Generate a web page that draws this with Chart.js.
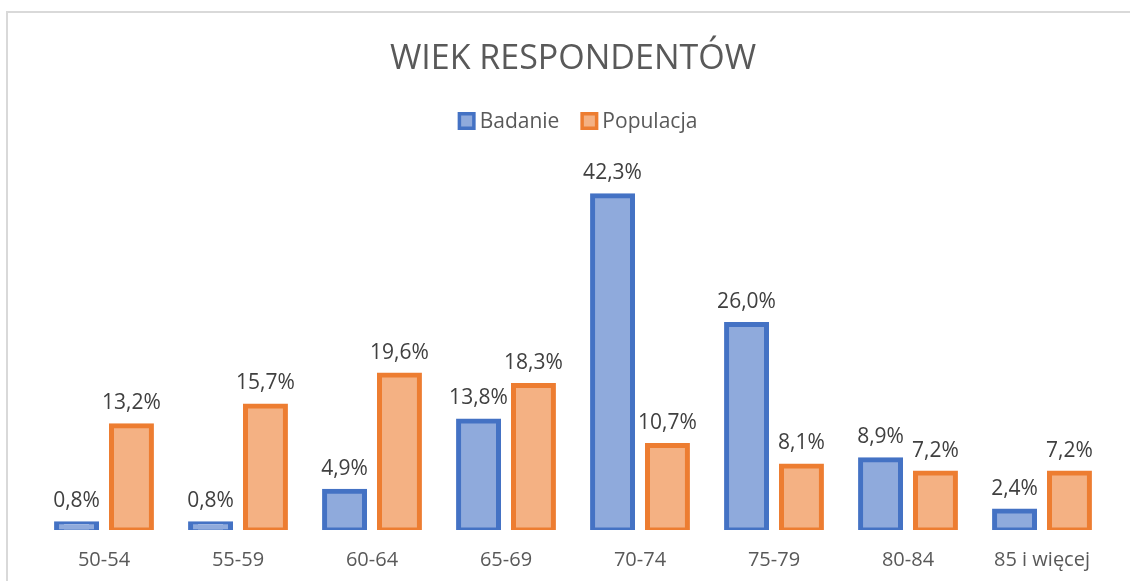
<!DOCTYPE html>
<html>
<head>
<meta charset="utf-8">
<script src="https://cdn.jsdelivr.net/npm/chart.js@4.4.0/dist/chart.umd.min.js"></script>
<style>
html,body{margin:0;padding:0;background:#fff;overflow:hidden;}
#wrap{position:absolute;left:0;top:0;width:1130px;height:600px;}
</style>
</head>
<body>
<div id="wrap"><canvas id="c" width="1130" height="600"></canvas></div>
<script>
const categories = ['50-54','55-59','60-64','65-69','70-74','75-79','80-84','85 i więcej'];
const badanie = [0.8, 0.8, 4.9, 13.8, 42.3, 26.0, 8.9, 2.4];
const populacja = [13.2, 15.7, 19.6, 18.3, 10.7, 8.1, 7.2, 7.2];
const seriesNames = ['Badanie', 'Populacja'];
const FONT = "'Open Sans', 'Noto Sans', sans-serif";

const framePlugin = {
  id: 'frame',
  beforeDraw(chart) {
    const ctx = chart.ctx;
    ctx.save();
    ctx.fillStyle = '#fff';
    ctx.fillRect(0, 0, chart.width, chart.height);
    ctx.strokeStyle = '#d9d9d9';
    ctx.lineWidth = 2;
    ctx.beginPath();
    ctx.moveTo(7, chart.height);
    ctx.lineTo(7, 12);
    ctx.lineTo(chart.width, 12);
    ctx.stroke();
    ctx.restore();
  }
};

const legendPlugin = {
  id: 'customLegend',
  afterDraw(chart) {
    const ctx = chart.ctx;
    ctx.save();
    ctx.font = "21px " + FONT;
    const box = 18, gapBoxText = 4, gapItems = 21, cy = 121;
    const items = chart.data.datasets.map(ds => ({
      text: ds.label, fill: ds.backgroundColor, stroke: ds.borderColor,
      w: ctx.measureText(ds.label).width
    }));
    let total = 0;
    items.forEach((it, i) => { total += box + gapBoxText + it.w + (i < items.length - 1 ? gapItems : 0); });
    let x = 577.5 - total / 2;
    ctx.textBaseline = 'middle';
    ctx.textAlign = 'left';
    items.forEach(it => {
      ctx.fillStyle = it.stroke;
      ctx.fillRect(x, cy - box / 2, box, box);
      ctx.fillStyle = it.fill;
      ctx.fillRect(x + 3.5, cy - box / 2 + 3.5, box - 7, box - 7);
      x += box + gapBoxText;
      ctx.fillStyle = '#595959';
      ctx.fillText(it.text, x, cy + 1);
      x += it.w + gapItems;
    });
    ctx.restore();
  }
};

const labelPlugin = {
  id: 'valueLabels',
  afterDatasetsDraw(chart) {
    const ctx = chart.ctx;
    ctx.save();
    ctx.font = "21px " + FONT;
    ctx.fillStyle = '#404040';
    ctx.textAlign = 'center';
    ctx.textBaseline = 'alphabetic';
    chart.data.datasets.forEach((ds, di) => {
      const meta = chart.getDatasetMeta(di);
      meta.data.forEach((bar, i) => {
        const v = ds.data[i];
        const txt = v.toFixed(1).replace('.', ',') + '%';
        ctx.fillText(txt, bar.x, bar.y - 16.5);
      });
    });
    ctx.restore();
  }
};

new Chart(document.getElementById('c'), {
  type: 'bar',
  data: {
    labels: categories,
    datasets: [
      { label: seriesNames[0], data: badanie, backgroundColor: '#8FAADC', borderColor: '#4472C4', borderWidth: 5, borderSkipped: false, inflateAmount: 2.5 },
      { label: seriesNames[1], data: populacja, backgroundColor: '#F4B183', borderColor: '#ED7D31', borderWidth: 5, borderSkipped: false, inflateAmount: 2.5 }
    ]
  },
  options: {
    responsive: false,
    animation: false,
    devicePixelRatio: 1,
    layout: { padding: { left: 37, right: 21, top: 0, bottom: 9 } },
    categoryPercentage: 0.82,
    barPercentage: 0.727,
    scales: {
      x: {
        grid: { display: false, drawTicks: false },
        border: { display: false },
        ticks: { color: '#595959', font: { size: 20, family: FONT }, padding: 18.5 }
      },
      y: {
        display: false,
        min: 0,
        max: 49.2
      }
    },
    plugins: {
      title: {
        display: true,
        text: 'WIEK RESPONDENTÓW',
        color: '#595959',
        font: { size: 34, family: FONT, weight: 'normal' },
        padding: { top: 39, bottom: 61.4 }
      },
      legend: { display: false },
      tooltip: { enabled: false }
    }
  },
  plugins: [framePlugin, labelPlugin, legendPlugin]
});
</script>
</body>
</html>
